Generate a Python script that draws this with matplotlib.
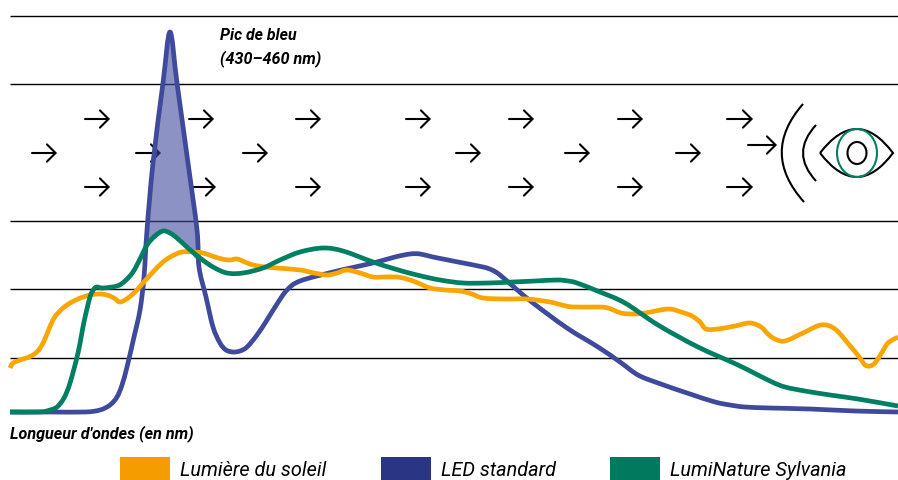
import matplotlib
matplotlib.use('Agg')
import matplotlib.pyplot as plt
from matplotlib.patches import Rectangle, PathPatch, Ellipse
from matplotlib.path import Path

# Courbes (x, y en pixels de la figure)
soleil_x = [10, 13, 20, 33, 42, 53, 60, 67, 78, 90, 100, 107, 114, 120, 128, 136, 143, 153, 163, 172, 182, 193, 203, 212, 222, 230, 237, 245, 253, 265, 277, 300, 314, 327, 337, 347, 360, 373, 385, 397, 407, 418, 430, 445, 460, 472, 483, 505, 527, 550, 562, 573, 598, 608, 621, 633, 645, 668, 681, 692, 700, 706, 718, 735, 750, 761, 768, 775, 785, 803, 821, 835, 851, 860, 865, 870, 875, 881, 888, 898]
soleil_y = [368, 363, 360, 355, 345, 320, 311, 305, 299, 295, 294, 295, 298, 302, 298, 291, 283, 272, 262, 256, 252, 252, 253, 256, 259, 260, 259, 262, 265, 267, 268, 270, 273, 275, 273, 270, 273, 277, 277, 277, 279, 283, 288, 290, 291, 294, 298, 299, 299, 302, 305, 307, 307, 308, 313, 314, 313, 309, 312, 316, 322, 329, 329, 326, 323, 327, 334, 339, 341, 333, 325, 329, 347, 358, 365, 366, 363, 354, 343, 337]

led_x = [10, 50, 85, 100, 110, 117, 122, 127, 134, 140, 144, 147, 153, 163, 170, 177, 188, 197, 199, 206, 213, 220, 226, 233, 240, 247, 257, 267, 277, 287, 300, 333, 355, 377, 395, 410, 420, 433, 458, 483, 492, 500, 515, 533, 567, 598, 620, 638, 658, 690, 715, 730, 745, 770, 810, 855, 898]
led_y = [412, 412, 412, 410, 405, 397, 385, 367, 337, 310, 277, 230, 163, 83, 32, 83, 163, 230, 267, 297, 327, 343, 350, 352, 351, 347, 335, 320, 304, 290, 281, 272, 267, 262, 257, 254, 254, 257, 262, 267, 270, 275, 288, 303, 328, 347, 362, 375, 383, 394, 402, 405, 407, 408, 409, 411, 412]

lumi_x = [10, 40, 50, 57, 64, 70, 78, 84, 90, 94, 97, 103, 117, 125, 133, 140, 147, 155, 163, 170, 177, 188, 200, 213, 227, 243, 263, 280, 300, 323, 343, 373, 395, 417, 440, 463, 488, 513, 535, 557, 568, 577, 600, 625, 658, 698, 738, 770, 785, 805, 830, 858, 898]
lumi_y = [412, 412, 410, 407, 398, 383, 353, 322, 297, 289, 287, 288, 286, 281, 272, 259, 245, 236, 231, 233, 238, 248, 258, 267, 273, 273, 268, 260, 252, 248, 251, 262, 269, 275, 280, 283, 283, 282, 281, 280, 281, 283, 292, 303, 325, 347, 365, 381, 387, 391, 395, 399, 406]

# Zone du pic de bleu (entre la courbe LED et la courbe LumiNature)
pic_x = [147, 153, 163, 170, 177, 188, 197, 188, 177, 170, 163, 155]
pic_y = [245, 163, 83, 32, 83, 163, 253, 248, 238, 233, 231, 236]

grille_y = [16, 84, 221, 289, 358]

fleches_x = [85, 189, 296, 406, 509, 618, 727,
             32, 136, 243, 456, 565, 676, 748,
             85, 191, 296, 406, 509, 618, 727]
fleches_y = [119, 119, 119, 119, 119, 119, 119,
             153, 153, 153, 153, 153, 153, 145,
             187, 187, 187, 187, 187, 187, 187]
fleches_long = [25, 25, 25, 25, 25, 25, 26,
                25, 25, 25, 25, 25, 25, 29,
                25, 25, 25, 25, 25, 25, 26]

noms = ['Lumière du soleil', 'LED standard', 'LumiNature Sylvania']
noms_x = [120, 381, 610]
couleurs = ['#f59c00', '#2a3583', '#007a5e']


def courbe(xs, ys):
    # Trace lisse qui passe par les points releves (Bezier de Catmull-Rom)
    pts = list(zip(xs, ys))
    sommets = [pts[0]]
    codes = [Path.MOVETO]
    for i in range(len(pts) - 1):
        p0 = pts[max(i - 1, 0)]
        p1 = pts[i]
        p2 = pts[i + 1]
        p3 = pts[min(i + 2, len(pts) - 1)]
        sommets.append((p1[0] + (p2[0] - p0[0]) / 6, p1[1] + (p2[1] - p0[1]) / 6))
        sommets.append((p2[0] - (p3[0] - p1[0]) / 6, p2[1] - (p3[1] - p1[1]) / 6))
        sommets.append(p2)
        codes += [Path.CURVE4, Path.CURVE4, Path.CURVE4]
    return Path(sommets, codes)


fig = plt.figure(figsize=(8.98, 4.8), dpi=100)
ax = fig.add_axes([0, 0, 1, 1])
ax.set_xlim(0, 898)
ax.set_ylim(480, 0)
ax.axis('off')

for y in grille_y:
    ax.plot([10, 898], [y, y], color='black', lw=1.0, zorder=1, solid_capstyle='butt')

# Fleches
for x, y, l in zip(fleches_x, fleches_y, fleches_long):
    ax.annotate('', xy=(x + l, y), xytext=(x, y), zorder=2,
                arrowprops=dict(arrowstyle='->,head_length=0.62,head_width=0.62',
                                color='black', lw=1.5, shrinkA=0, shrinkB=0))

# Pic de bleu
ax.add_patch(PathPatch(courbe(pic_x, pic_y), fc='#3f4a9c', ec='none', alpha=0.6, zorder=3))

# Courbes
ax.add_patch(PathPatch(courbe(led_x, led_y), fc='none', ec='#3f4a9c', lw=3.4,
                       capstyle='butt', joinstyle='round', zorder=4))
ax.add_patch(PathPatch(courbe(soleil_x, soleil_y), fc='none', ec='#f9a602', lw=3.4,
                       capstyle='butt', joinstyle='round', zorder=5))
ax.add_patch(PathPatch(courbe(lumi_x, lumi_y), fc='none', ec='#007f63', lw=3.4,
                       capstyle='butt', joinstyle='round', zorder=6))

# Oeil et ondes
courbe3 = [Path.MOVETO, Path.CURVE3, Path.CURVE3]
ax.add_patch(PathPatch(Path([(803, 104), (760, 153), (804, 202)], courbe3),
                       fc='none', ec='black', lw=1.5, zorder=4))
ax.add_patch(PathPatch(Path([(816, 125), (790, 153), (816, 181)], courbe3),
                       fc='none', ec='black', lw=1.5, zorder=4))
oeil = Path([(820, 153), (857, 105), (893, 153), (857, 201), (820, 153)],
            [Path.MOVETO, Path.CURVE3, Path.CURVE3, Path.CURVE3, Path.CURVE3])
ax.add_patch(PathPatch(oeil, fc='none', ec='black', lw=1.5, zorder=4))
ax.add_patch(Ellipse((857, 153), 19, 22, fc='none', ec='black', lw=1.5, zorder=4))
ax.add_patch(Ellipse((857, 153), 40, 48, fc='none', ec='#007f63', lw=1.5, zorder=5))

# Textes
ax.text(220, 35, 'Pic de bleu', family='Roboto', style='italic', weight='bold',
        fontsize=11.4, va='center', ha='left')
ax.text(220, 59, '(430–460 nm)', family='Roboto', style='italic', weight='bold',
        fontsize=11.6, va='center', ha='left')
ax.text(10, 434, "Longueur d'ondes (en nm)", family='Roboto', style='italic', weight='bold',
        fontsize=11.6, va='center', ha='left')

# Legende
for nom, x, c in zip(noms, noms_x, couleurs):
    ax.add_patch(Rectangle((x, 457), 50, 23, fc=c, ec='none', zorder=2))
    ax.text(x + 60, 471, nom, family='Roboto', style='italic', fontsize=14.3,
            va='center', ha='left')

fig.savefig('out.png', dpi=100)
